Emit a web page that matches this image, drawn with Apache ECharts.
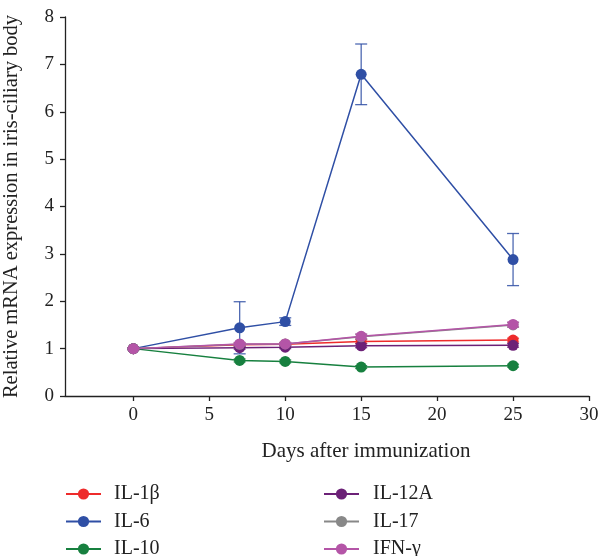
<!DOCTYPE html>
<html><head><meta charset="utf-8">
<script src="https://cdn.jsdelivr.net/npm/echarts@6/dist/echarts.min.js"></script>
<style>html,body{margin:0;padding:0;background:#fff}#c{width:600px;height:556px}</style>
</head><body><div id="c"></div>
<script>
const days = [0, 7, 10, 15, 25];
const xTicks = [0, 5, 10, 15, 20, 25, 30];
const names = ['IL-1β', 'IL-6', 'IL-10', 'IL-12A', 'IL-17', 'IFN-γ'];
const colors = ['#ee2b2b', '#2f4fa5', '#17803f', '#6c2177', '#888888', '#b455a7'];
const il1b = [1.0, 1.08, 1.09, 1.15, 1.18];
const il1bErr = [0.02, 0.03, 0.03, 0.04, 0.04];
const il6 = [1.0, 1.44, 1.57, 6.79, 2.88];
const il6Err = [0.02, 0.55, 0.08, 0.64, 0.55];
const il10 = [1.0, 0.75, 0.73, 0.61, 0.64];
const il10Err = [0.02, 0.03, 0.03, 0.03, 0.03];
const il12a = [1.0, 1.02, 1.03, 1.06, 1.07];
const il12aErr = [0.02, 0.03, 0.03, 0.04, 0.04];
const il17 = [1.0, 1.09, 1.10, 1.25, 1.50];
const il17Err = [0.02, 0.03, 0.03, 0.05, 0.05];
const ifng = [1.0, 1.1, 1.1, 1.26, 1.51];
const ifngErr = [0.02, 0.03, 0.03, 0.05, 0.05];

const values = [il1b, il6, il10, il12a, il17, ifng];
const errs = [il1bErr, il6Err, il10Err, il12aErr, il17Err, ifngErr];

const series = [];
values.forEach((vals, i) => {
  series.push({
    type: 'custom', name: names[i] + ' err', silent: true, z: 2 + i,
    data: days.map((d, k) => [d, vals[k] - errs[i][k], vals[k] + errs[i][k]]),
    renderItem: (params, api) => {
      const lo = api.coord([api.value(0), api.value(1)]);
      const hi = api.coord([api.value(0), api.value(2)]);
      const hw = 6;
      const st = { stroke: colors[i], lineWidth: 1.3, opacity: 0.85 };
      return { type: 'group', children: [
        { type: 'line', shape: { x1: lo[0], y1: lo[1], x2: hi[0], y2: hi[1] }, style: st },
        { type: 'line', shape: { x1: lo[0] - hw, y1: lo[1], x2: lo[0] + hw, y2: lo[1] }, style: st },
        { type: 'line', shape: { x1: hi[0] - hw, y1: hi[1], x2: hi[0] + hw, y2: hi[1] }, style: st }
      ]};
    }
  });
  series.push({
    type: 'line', name: names[i], z: 2 + i,
    data: days.map((d, k) => [d, vals[k]]),
    symbol: 'circle', symbolSize: 11,
    lineStyle: { color: colors[i], width: 1.5 },
    itemStyle: { color: colors[i] },
    emphasis: { disabled: true },
    animation: false
  });
});

const font = 'Liberation Serif';
const chart = echarts.init(document.getElementById('c'));
chart.setOption({
  animation: false,
  color: colors,
  grid: { left: 65, right: 11, top: 17, bottom: 160, containLabel: false, outerBoundsMode: 'none' },
  title: {
    text: 'Days after immunization', left: 361, top: 436, textAlign: 'center',
    textStyle: { fontFamily: font, fontSize: 21, fontWeight: 'normal', color: '#222' }
  },
  xAxis: {
    type: 'value', min: -4.5, max: 30,
    axisLine: { onZero: false, lineStyle: { color: '#222', width: 1.3 } },
    axisTick: { show: true, length: 5, customValues: xTicks, lineStyle: { color: '#222', width: 1.3 } },
    axisLabel: { customValues: xTicks, margin: 10, fontFamily: font, fontSize: 19, color: '#222' },
    splitLine: { show: false }
  },
  yAxis: {
    type: 'value', min: 0, max: 8, interval: 1,
    name: 'Relative mRNA expression in iris-ciliary body',
    nameLocation: 'middle', nameGap: 43,
    nameTextStyle: { fontFamily: font, fontSize: 20.5, color: '#222' },
    axisLine: { show: true, onZero: false, lineStyle: { color: '#222', width: 1.3 } },
    axisTick: { show: true, length: 5, lineStyle: { color: '#222', width: 1.3 } },
    axisLabel: { margin: 11, fontFamily: font, fontSize: 19, color: '#222' },
    splitLine: { show: false }
  },
  legend: [
    { data: names.slice(0, 3), orient: 'vertical', left: 65, top: 484, height: 100, padding: 0, itemWidth: 35, itemHeight: 14, itemGap: 7.5,
      textStyle: { fontFamily: font, fontSize: 20, color: '#222', lineHeight: 20, padding: [0, 0, 0, 8] }, selectedMode: false },
    { data: names.slice(3), orient: 'vertical', left: 323, top: 484, height: 100, padding: 0, itemWidth: 35, itemHeight: 14, itemGap: 7.5,
      textStyle: { fontFamily: font, fontSize: 20, color: '#222', lineHeight: 20, padding: [0, 0, 0, 9] }, selectedMode: false }
  ],
  series: series
});
</script></body></html>
